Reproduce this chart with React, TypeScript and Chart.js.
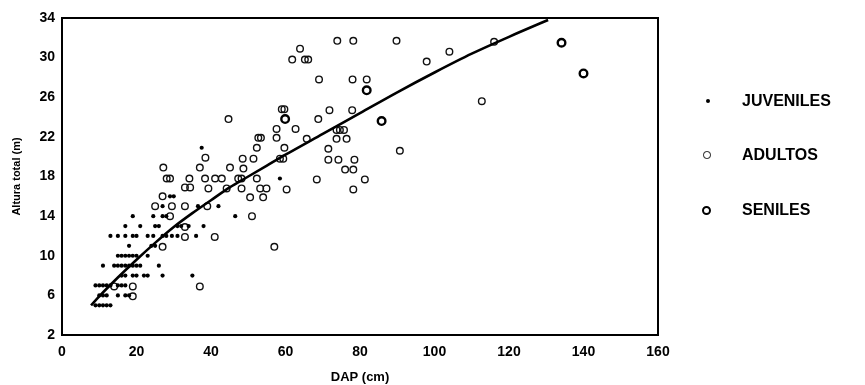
import React, { useEffect, useRef } from "react";
import { Chart, registerables } from "chart.js";

Chart.register(...registerables);

// ---- Axis ticks ----
const xTickValues = [0, 20, 40, 60, 80, 100, 120, 140, 160];
const yTickValues = [2, 6, 10, 14, 18, 22, 26, 30, 34];

// ---- Legend labels ----
const seriesLabels = ["JUVENILES", "ADULTOS", "SENILES"];
const xTitle = "DAP (cm)";
const yTitle = "Altura total (m)";

// ---- JUVENILES (DAP cm, altura m) ----
const juvenilesDap = [
  9, 10, 11, 12, 13,
  10, 11, 12, 15, 17, 18,
  9, 10, 11, 12, 13, 15, 16, 17,
  16, 17, 19, 20, 22, 23, 27, 35,
  11, 14, 15, 16, 17, 18, 19, 20, 21, 26,
  15, 16, 17, 18, 19, 20, 23,
  18, 24, 25,
  13, 15, 17, 19, 20, 23, 24.5, 27, 28, 29.5, 31, 36,
  17, 21, 25, 26, 31, 32, 34, 38,
  19, 24.5, 27, 28, 46.5,
  27, 36.5, 42,
  29, 30,
  58.5,
  37.5,
];
const juvenilesAltura = [
  5, 5, 5, 5, 5,
  6, 6, 6, 6, 6, 6,
  7, 7, 7, 7, 7, 7, 7, 7,
  8, 8, 8, 8, 8, 8, 8, 8,
  9, 9, 9, 9, 9, 9, 9, 9, 9, 9,
  10, 10, 10, 10, 10, 10, 10,
  11, 11, 11,
  12, 12, 12, 12, 12, 12, 12, 12, 12, 12, 12, 12,
  13, 13, 13, 13, 13, 13, 13, 13,
  14, 14, 14, 14, 14,
  15, 15, 15,
  16, 16,
  17.8,
  20.9,
];

// ---- ADULTOS ----
const adultosDap = [
  14, 19, 37, 19,
  27, 57,
  33, 41,
  33,
  29, 51,
  25, 29.5, 33, 39,
  27, 50.5, 54,
  33, 34.4, 39.3, 44.2, 48.2, 53.2, 54.9, 60.3, 78.2,
  28.1, 29, 34.2, 38.4, 41.1, 42.9, 47.3, 48.2, 52.3, 68.4, 81.3,
  27.2, 37, 45.1, 48.7, 76, 78.2,
  38.5, 48.5, 51.4, 58.5, 59.4, 71.5, 74.2, 78.5,
  52.3, 59.7, 71.5, 90.7,
  52.7, 53.4, 57.6, 65.7, 73.7, 76.4,
  57.6, 62.7, 73.7, 74.6, 75.7,
  44.7, 68.8,
  59, 59.7, 71.8, 77.9,
  112.7,
  69, 78, 81.8,
  61.8, 65.2, 66.1, 97.9,
  63.9, 104,
  73.9, 78.2, 89.8, 116,
];
const adultosAltura = [
  6.9, 6.9, 6.9, 5.9,
  10.9, 10.9,
  11.9, 11.9,
  12.9,
  14, 14,
  15, 15, 15, 15,
  16, 15.9, 15.9,
  16.9, 16.9, 16.8, 16.8, 16.8, 16.8, 16.8, 16.7, 16.7,
  17.8, 17.8, 17.8, 17.8, 17.8, 17.8, 17.8, 17.8, 17.8, 17.7, 17.7,
  18.9, 18.9, 18.9, 18.8, 18.7, 18.7,
  19.9, 19.8, 19.8, 19.8, 19.8, 19.7, 19.7, 19.7,
  20.9, 20.9, 20.8, 20.6,
  21.9, 21.9, 21.9, 21.8, 21.8, 21.8,
  22.8, 22.8, 22.7, 22.7, 22.7,
  23.8, 23.8,
  24.8, 24.8, 24.7, 24.7,
  25.6,
  27.8, 27.8, 27.8,
  29.8, 29.8, 29.8, 29.6,
  30.9, 30.6,
  31.7, 31.7, 31.7, 31.6,
];

// ---- SENILES ----
const senilesDap = [59.9, 85.8, 81.8, 134.1, 140];
const senilesAltura = [23.8, 23.6, 26.7, 31.5, 28.4];

// ---- Fitted curve ----
const curvaDap = [7.8, 10, 15, 20, 25, 30, 35, 40, 45, 50, 55, 60, 70, 80, 90, 100, 110, 120, 130.5];
const curvaAltura = [5.0, 5.9, 7.8, 9.6, 11.3, 12.9, 14.3, 15.6, 16.9, 18.0, 19.1, 20.2, 22.3, 24.4, 26.5, 28.5, 30.4, 32.1, 33.8];

const toPoints = (xs: number[], ys: number[]) => xs.map((x, i) => ({ x, y: ys[i] }));

const FONT = "'Liberation Sans', Arial, Helvetica, sans-serif";

const framePlugin = {
  id: "frameBox",
  beforeDatasetsDraw(chart: any) {
    const { ctx, chartArea } = chart;
    ctx.save();
    ctx.strokeStyle = "#000";
    ctx.lineWidth = 2;
    ctx.strokeRect(chartArea.left, chartArea.top, chartArea.right - chartArea.left, chartArea.bottom - chartArea.top);
    ctx.restore();
  },
};

export default function App() {
  const canvasRef = useRef<HTMLCanvasElement | null>(null);

  useEffect(() => {
    if (!canvasRef.current) return;
    const chart = new Chart(canvasRef.current, {
      type: "scatter",
      data: {
        datasets: [
          {
            type: "line",
            label: "curva",
            data: toPoints(curvaDap, curvaAltura),
            borderColor: "#000",
            borderWidth: 2.6,
            pointRadius: 0,
            fill: false,
            cubicInterpolationMode: "monotone",
            order: 0,
          } as any,
          {
            label: seriesLabels[0],
            data: toPoints(juvenilesDap, juvenilesAltura),
            pointRadius: 2.1,
            pointBackgroundColor: "#000",
            pointBorderWidth: 0,
            order: 1,
          },
          {
            label: seriesLabels[1],
            data: toPoints(adultosDap, adultosAltura),
            pointRadius: 3.3,
            pointBackgroundColor: "rgba(255,255,255,0)",
            pointBorderColor: "#111",
            pointBorderWidth: 1.4,
            order: 2,
          },
          {
            label: seriesLabels[2],
            data: toPoints(senilesDap, senilesAltura),
            pointRadius: 3.8,
            pointBackgroundColor: "rgba(255,255,255,0)",
            pointBorderColor: "#000",
            pointBorderWidth: 2.4,
            order: 3,
          },
        ],
      },
      options: {
        responsive: false,
        animation: false,
        events: [],
        layout: { padding: { top: 18, right: 207, left: 0, bottom: 0 } },
        plugins: {
          legend: { display: false },
          tooltip: { enabled: false },
        },
        scales: {
          x: {
            type: "linear",
            min: 0,
            max: 160,
            afterBuildTicks: (s: any) => {
              s.ticks = xTickValues.map((v) => ({ value: v }));
            },
            afterFit: (s: any) => {
              s.height = 50;
            },
            ticks: {
              padding: 9,
              color: "#000",
              font: { family: FONT, size: 14, weight: "bold" },
            },
            grid: { display: false, drawTicks: false },
            border: { display: false },
            title: {
              display: true,
              text: xTitle,
              color: "#000",
              font: { family: FONT, size: 13, weight: "bold" },
              padding: { top: 0, bottom: 0 },
            },
          },
          y: {
            type: "linear",
            min: 2,
            max: 34,
            afterBuildTicks: (s: any) => {
              s.ticks = yTickValues.map((v) => ({ value: v }));
            },
            afterFit: (s: any) => {
              s.width = 62;
            },
            ticks: {
              padding: 7,
              color: "#000",
              font: { family: FONT, size: 14, weight: "bold" },
            },
            grid: { display: false, drawTicks: false },
            border: { display: false },
            title: {
              display: true,
              text: yTitle,
              color: "#000",
              font: { family: FONT, size: 11, weight: "bold" },
              padding: { top: 10, bottom: 0 },
            },
          },
        },
      },
      plugins: [framePlugin],
    });
    return () => chart.destroy();
  }, []);

  const legendTextStyle: React.CSSProperties = {
    position: "absolute",
    left: 742,
    fontFamily: FONT,
    fontWeight: "bold",
    fontSize: 16,
    lineHeight: "16px",
    color: "#000",
    whiteSpace: "nowrap",
  };

  return (
    <div style={{ position: "fixed", left: 0, top: 0, width: 865, height: 385, background: "#fff" }}>
      <canvas ref={canvasRef} width={865} height={385} style={{ position: "absolute", left: 0, top: 0, width: 865, height: 385 }} />
      {/* legend */}
      <div style={{ position: "absolute", left: 706, top: 99, width: 4, height: 4, borderRadius: "50%", background: "#000" }} />
      <div style={{ ...legendTextStyle, top: 93 }}>{seriesLabels[0]}</div>
      <div style={{ position: "absolute", left: 703, top: 151, width: 5.5, height: 5.5, borderRadius: "50%", border: "1.3px solid #111" }} />
      <div style={{ ...legendTextStyle, top: 147 }}>{seriesLabels[1]}</div>
      <div style={{ position: "absolute", left: 702, top: 206, width: 5, height: 5, borderRadius: "50%", border: "2.4px solid #000" }} />
      <div style={{ ...legendTextStyle, top: 202 }}>{seriesLabels[2]}</div>
    </div>
  );
}
